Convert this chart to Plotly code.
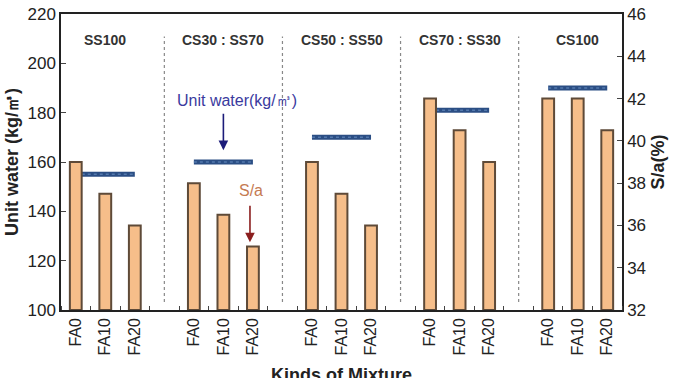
import plotly.graph_objects as go

groups = ["SS100", "CS30 : SS70", "CS50 : SS50", "CS70 : SS30", "CS100"]
fa_labels = ["FA0", "FA10", "FA20"]
sa_values = [
    [39.0, 37.5, 36.0],
    [38.0, 36.5, 35.0],
    [39.0, 37.5, 36.0],
    [42.0, 40.5, 39.0],
    [42.0, 42.0, 40.5],
]
unit_water = [155, 160, 170, 181, 190]

# positions: 3 bars per group, one empty slot between groups
xs, ys, labels = [], [], []
for g, vals in enumerate(sa_values):
    for i, v in enumerate(vals):
        xs.append(g * 4 + i)
        ys.append(v)
        labels.append(fa_labels[i])

fig = go.Figure()
fig.add_trace(go.Bar(
    x=xs, y=[v - 32 for v in ys], base=32, yaxis="y2", width=0.4,
    marker=dict(color="#F6BE8A", line=dict(color="#5E4A38", width=2)),
    showlegend=False,
))

for g, w in enumerate(unit_water):
    fig.add_trace(go.Scatter(
        x=[g * 4, g * 4 + 2], y=[w, w], mode="lines",
        line=dict(color="#2B4E84", width=5), showlegend=False,
    ))
    fig.add_trace(go.Scatter(
        x=[g * 4, g * 4 + 2], y=[w, w], mode="lines",
        line=dict(color="#5479AD", width=1.5, dash="dot"), showlegend=False,
    ))

# dotted separators
for g in range(1, len(groups)):
    fig.add_shape(type="line", xref="x", yref="paper",
                  x0=g * 4 - 1, x1=g * 4 - 1, y0=0.027, y1=0.924,
                  line=dict(color="#888888", width=1.2, dash="dot"))

# group labels
for g, name in enumerate(groups):
    fig.add_annotation(x=g * 4 + 1, y=0.913, xref="x", yref="paper",
                       yanchor="middle",
                       text="<b>" + name + "</b>", showarrow=False,
                       font=dict(size=14, color="#333333"))

# annotations with arrows
fig.add_annotation(x=5.45, y=185, xref="x", yref="y", yanchor="middle",
                   text="Unit water(kg/㎥)", showarrow=False,
                   font=dict(size=16, color="#3A3A9E"))
fig.add_annotation(x=5, y=164.8, xref="x", yref="y", ax=0, ay=-38,
                   text="", showarrow=True, arrowhead=2, arrowsize=1.2,
                   arrowwidth=1.6, arrowcolor="#1C1C7A")
fig.add_annotation(x=5.93, y=37.67, xref="x", yref="y2", yanchor="middle",
                   text="S/a", showarrow=False,
                   font=dict(size=16, color="#C57A52"))
fig.add_annotation(x=5.9, y=35.2, xref="x", yref="y2", ax=0, ay=-38,
                   text="", showarrow=True, arrowhead=2, arrowsize=1.2,
                   arrowwidth=1.6, arrowcolor="#8B1E1E")

fig.add_annotation(x=0.5, y=-0.18, xref="paper", yref="paper", yanchor="top",
                   text="<b>Kinds of Mixture</b>", showarrow=False,
                   font=dict(size=18, color="#222222"))

fig.update_layout(
    width=687, height=378,
    margin=dict(l=61, r=65, t=14, b=68, autoexpand=False),
    paper_bgcolor="white", plot_bgcolor="white",
    font=dict(family="Liberation Sans, Arial, sans-serif", color="#222222"),
    xaxis=dict(
        range=[-0.5, 18.5], tickmode="array", tickvals=xs, ticktext=labels,
        tickangle=-90, tickfont=dict(size=16), ticks="", automargin=False,
        showline=True, linecolor="#222222", linewidth=1.5, mirror=True,
        showgrid=False, zeroline=False,
        minor=dict(tickmode="linear", tick0=0.5, dtick=1, ticks="inside",
                   ticklen=4, tickcolor="#444444"),
    ),
    yaxis=dict(
        range=[100, 220], dtick=20, ticks="inside", ticklen=5, automargin=False,
        tickfont=dict(size=17), showline=True, linecolor="#222222",
        linewidth=1.5, showgrid=False, zeroline=False,
        title=dict(text="<b>Unit water (kg/㎥)</b>", font=dict(size=18), standoff=4),
    ),
    yaxis2=dict(
        range=[32, 46], dtick=2, ticks="inside", ticklen=5, overlaying="y",
        side="right", tickfont=dict(size=17), showline=True, automargin=False,
        linecolor="#222222", linewidth=1.5, showgrid=False, zeroline=False,
        title=dict(text="<b>S/a(%)</b>", font=dict(size=18), standoff=6),
    ),
)

fig.write_html("out.html")
